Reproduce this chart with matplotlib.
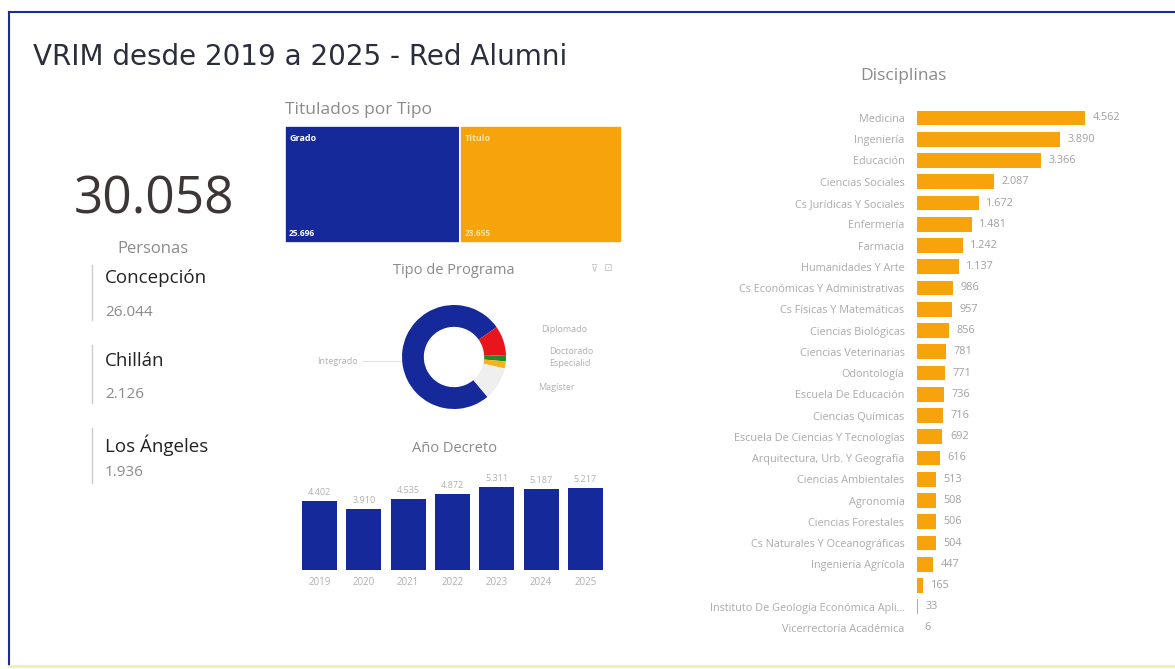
import matplotlib
matplotlib.use("Agg")
import matplotlib.pyplot as plt
from matplotlib.patches import Rectangle
from matplotlib.lines import Line2D

W, H = 1175, 669
plt.rcParams['font.family'] = ['Open Sans', 'DejaVu Sans']

# ---------------- data ----------------
title_text = "VRIM desde 2019 a 2025 - Red Alumni"
total_persons = "30.058"
campus_names = ["Concepción", "Chillán", "Los Ángeles"]
campus_values = ["26.044", "2.126", "1.936"]

tipo_labels = ["Grado", "Título"]
tipo_values = [25696, 23655]

programa_labels = ["Integrado", "Diplomado", "Doctorado", "Especialid", "Magíster"]
programa_values = [22960, 2750, 580, 660, 3108]

years = ["2019", "2020", "2021", "2022", "2023", "2024", "2025"]
year_values = [4402, 3910, 4535, 4872, 5311, 5187, 5217]

disciplinas = ["Medicina", "Ingeniería", "Educación", "Ciencias Sociales",
               "Cs Jurídicas Y Sociales", "Enfermería", "Farmacia",
               "Humanidades Y Arte", "Cs Económicas Y Administrativas",
               "Cs Físicas Y Matemáticas", "Ciencias Biológicas",
               "Ciencias Veterinarias", "Odontología", "Escuela De Educación",
               "Ciencias Químicas", "Escuela De Ciencias Y Tecnologías",
               "Arquitectura, Urb. Y Geografía", "Ciencias Ambientales",
               "Agronomía", "Ciencias Forestales", "Cs Naturales Y Oceanográficas",
               "Ingeniería Agrícola", "", "Instituto De Geología Económica Apli...",
               "Vicerrectoría Académica"]
disc_values = [4562, 3890, 3366, 2087, 1672, 1481, 1242, 1137, 986, 957, 856,
               781, 771, 736, 716, 692, 616, 513, 508, 506, 504, 447, 165, 33, 6]

BLUE = "#15299a"
ORANGE = "#f7a40c"
GRAY = "#9a9a9a"


def fmt(v):
    return f"{v:,}".replace(",", ".")


fig = plt.figure(figsize=(W / 100, H / 100), dpi=100)
fig.patch.set_facecolor("white")


def px_axes(x0, y0, x1, y1):
    return fig.add_axes([x0 / W, 1 - y1 / H, (x1 - x0) / W, (y1 - y0) / H])


def ftext(x, y, s, **kw):
    fig.text(x / W, 1 - y / H, s, **kw)


# border
fig.add_artist(Line2D([9 / W, 9 / W], [1 - 12 / H, 1 - 665 / H], color="#1c2f8a", lw=1.5))
fig.add_artist(Line2D([9 / W, 1.0], [1 - 12 / H, 1 - 12 / H], color="#1c2f8a", lw=1.5))
fig.add_artist(Line2D([9 / W, 1.0], [1 - 666 / H, 1 - 666 / H], color="#f6eeb0", lw=2))

# title
ftext(33, 57, title_text, fontsize=20, color="#2a2d3a", family=["DejaVu Sans"],
      va="center", ha="left")

# KPI
ftext(154, 200, total_persons, fontsize=37, color="#3d3636", ha="center", va="center")
ftext(153, 249, "Personas", fontsize=12, color="#8a8a8a", ha="center", va="center")
name_y = [278, 361, 445]
val_y = [312, 395, 472]
line_spans = [(265, 320), (345, 403), (428, 483)]
for n, v, ny, vy, (a, b) in zip(campus_names, campus_values, name_y, val_y, line_spans):
    ftext(105, ny, n, fontsize=13.5, color="#222222", ha="left", va="center")
    ftext(105, vy, v, fontsize=11, color="#8a8a8a", ha="left", va="center")
    fig.add_artist(Line2D([92 / W, 92 / W], [1 - a / H, 1 - b / H], color="#cccccc", lw=1))

# ---------------- treemap ----------------
ftext(285, 110, "Titulados por Tipo", fontsize=12.5, color="#8a8a8a", ha="left", va="center")
axt = px_axes(285, 126, 622, 243)
total_t = sum(tipo_values)
x = 0
tcolors = [BLUE, ORANGE]
tlabc = ["white", "#fde3a8"]
for lab, val, c, lc in zip(tipo_labels, tipo_values, tcolors, tlabc):
    axt.add_patch(Rectangle((x, 0), val, 1, facecolor=c, edgecolor="white", lw=1.2))
    axt.text(x + total_t * 0.012, 0.93, lab, color=lc, fontsize=6.5, va="top", ha="left",
             fontweight="bold")
    axt.text(x + total_t * 0.012, 0.04, fmt(val), color=lc, fontsize=6, va="bottom", ha="left",
             fontweight="bold")
    x += val
axt.set_xlim(0, total_t)
axt.set_ylim(0, 1)
axt.axis("off")

# ---------------- donut ----------------
ftext(454, 270, "Tipo de Programa", fontsize=10.5, color="#8a8a8a", ha="center", va="center")
cx, cy, r = 454, 357, 52
axd = px_axes(cx - 70, cy - 70, cx + 70, cy + 70)
pcolors = [BLUE, "#e8151b", "#1f8a2c", "#f5b21a", "#efefef"]
axd.pie(programa_values, colors=pcolors, startangle=-50, counterclock=False,
        radius=1, wedgeprops=dict(width=0.42, edgecolor="none"))
axd.set_xlim(-70 / r, 70 / r)
axd.set_ylim(-70 / r, 70 / r)
axd.set_aspect("equal")
axd.axis("off")
# labels (text only)
lab_pos = {"Integrado": (358, 361, "right"), "Diplomado": (541, 329, "left"),
           "Doctorado": (549, 352, "left"), "Especialid": (549, 364, "left"),
           "Magíster": (538, 387, "left")}
for lab in programa_labels:
    lx, ly, ha = lab_pos[lab]
    ftext(lx, ly, lab, fontsize=6.5, color="#b0b0b0", ha=ha, va="center")
fig.add_artist(Line2D([362 / W, 400 / W], [1 - 361 / H, 1 - 361 / H], color="#dddddd", lw=0.6))
ftext(591, 268, "⊽  ⊡", fontsize=7, color="#c0c0c0", ha="left", va="center",
      family=["DejaVu Sans"])

# ---------------- Año Decreto ----------------
ftext(455, 449, "Año Decreto", fontsize=10.5, color="#8a8a8a", ha="center", va="center")
axy = px_axes(297.3, 470, 607.5, 570)
xs = list(range(len(years)))
axy.bar(xs, year_values, width=0.79, color=BLUE)
for xi, v in zip(xs, year_values):
    axy.text(xi, v + 250, fmt(v), ha="center", va="bottom", fontsize=6.5, color="#b0b0b0")
axy.set_xlim(-0.5, len(years) - 0.5)
axy.set_ylim(0, 6380)
axy.set_xticks(xs)
axy.set_xticklabels(years, fontsize=7, color="#b0b0b0")
axy.tick_params(axis="x", length=0, pad=5)
axy.set_yticks([])
for s in axy.spines.values():
    s.set_visible(False)
axy.patch.set_alpha(0)

# ---------------- Disciplinas ----------------
ftext(903, 76, "Disciplinas", fontsize=12.5, color="#8a8a8a", ha="center", va="center")
n = len(disciplinas)
axb = px_axes(917, 118 - 10.625, 1150, 628 + 10.625)
ys = list(range(n))
axb.barh(ys, disc_values, height=0.7, color=ORANGE)
xmax = (1150 - 917) / 0.0368
for yi, v in zip(ys, disc_values):
    axb.text(v + 7.5 / 0.0368, yi, fmt(v), va="center", ha="left", fontsize=7.8, color="#a0a0a0")
axb.set_xlim(0, xmax)
axb.set_ylim(n - 0.5, -0.5)
axb.set_yticks(ys)
axb.set_yticklabels(disciplinas, fontsize=7.8, color="#ababab")
axb.tick_params(axis="y", length=0, pad=9)
axb.set_xticks([])
for s in axb.spines.values():
    s.set_visible(False)
axb.patch.set_alpha(0)

fig.savefig("out.png", dpi=100)
